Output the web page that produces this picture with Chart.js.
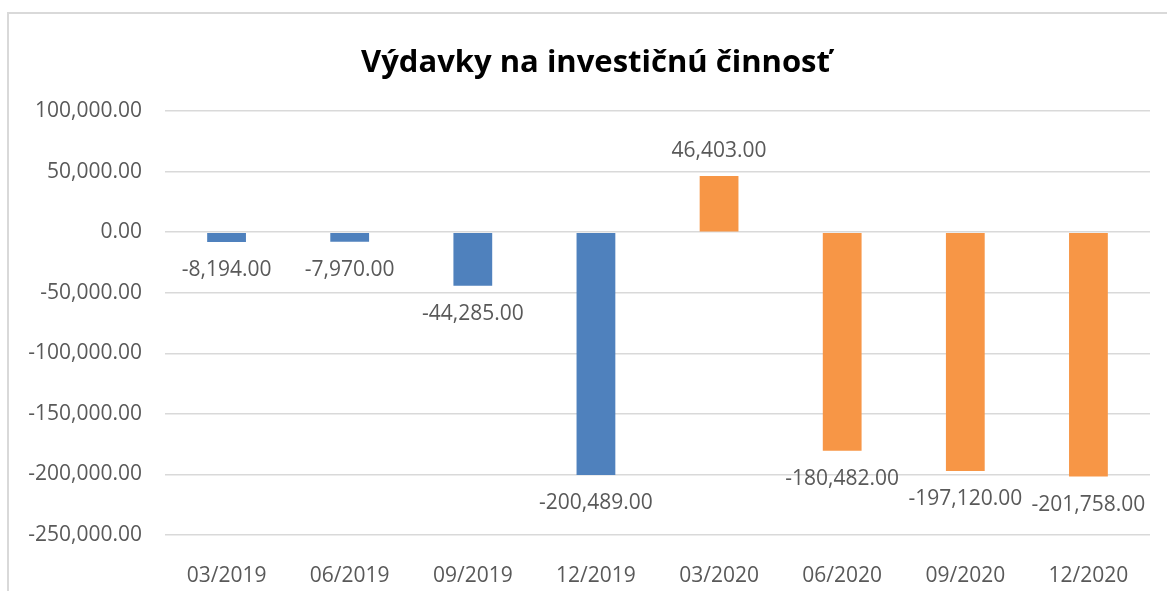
<!DOCTYPE html>
<html lang="sk">
<head>
    <meta charset="UTF-8">
    <title>Výdavky na investičnú činnosť</title>
    <script src="https://cdn.jsdelivr.net/npm/chart.js"></script>
    <style>
        html, body { margin: 0; padding: 0; background: #fff; overflow: hidden; }
        .frame { position: absolute; left: 7px; top: 12px; width: 1300px; height: 700px; border: 2px solid #d9d9d9; }
        .chart-box { position: absolute; left: 0; top: 0; width: 1167px; height: 591px; }
    </style>
</head>
<body>
    <div class="frame"></div>
    <div class="chart-box"><canvas id="investChart"></canvas></div>
    <script>
        // data
        const periods = ['03/2019', '06/2019', '09/2019', '12/2019', '03/2020', '06/2020', '09/2020', '12/2020'];
        const spending = [-8194, -7970, -44285, -200489, 46403, -180482, -197120, -201758];
        const yTicks = [100000, 50000, 0, -50000, -100000, -150000, -200000, -250000];
        const chartTitle = 'Výdavky na investičnú činnosť';

        const blue = '#4f81bd', orange = '#f79646';
        const fontFamily = '"Open Sans", "Noto Sans", sans-serif';
        const fmt = v => v.toLocaleString('en-US', { minimumFractionDigits: 2, maximumFractionDigits: 2 });

        // Excel-style value labels (outside end) + title centred on the chart frame
        const valueLabels = {
            id: 'valueLabels',
            afterDatasetsDraw(chart) {
                const ctx = chart.ctx;
                const meta = chart.getDatasetMeta(0);
                ctx.save();
                ctx.font = '21px ' + fontFamily;
                ctx.fillStyle = '#595959';
                ctx.textAlign = 'center';
                ctx.textBaseline = 'middle';
                meta.data.forEach((bar, i) => {
                    const v = spending[i];
                    const y = v < 0 ? bar.y + 28 : bar.y - 25;
                    ctx.fillText(fmt(v), bar.x, y);
                });
                ctx.font = 'bold 31px ' + fontFamily;
                ctx.fillStyle = '#000';
                ctx.fillText(chartTitle, chart.width / 2 + 12, 63);
                ctx.restore();
            }
        };

        new Chart(document.getElementById('investChart'), {
            type: 'bar',
            data: {
                labels: periods,
                datasets: [{
                    data: spending,
                    backgroundColor: periods.map(p => p.endsWith('2019') ? blue : orange),
                    barPercentage: 0.315,
                    categoryPercentage: 1
                }]
            },
            options: {
                responsive: true,
                maintainAspectRatio: false,
                animation: false,
                layout: { padding: { left: 0, right: 17, top: 111, bottom: 0 } },
                plugins: {
                    legend: { display: false },
                    tooltip: { enabled: false },
                    title: { display: false }
                },
                scales: {
                    x: {
                        grid: { display: false },
                        border: { display: false },
                        ticks: { color: '#595959', font: { family: fontFamily, size: 21 }, padding: 20 },
                        afterFit(scale) { scale.height = 56; }
                    },
                    y: {
                        min: yTicks[yTicks.length - 1],
                        max: yTicks[0],
                        border: { display: false },
                        grid: { color: '#d9d9d9', lineWidth: 1.5, drawTicks: false },
                        ticks: {
                            stepSize: 50000,
                            color: '#595959',
                            font: { family: fontFamily, size: 21 },
                            padding: 23,
                            callback: v => fmt(v)
                        },
                        afterFit(scale) { scale.width = 165; }
                    }
                }
            },
            plugins: [valueLabels]
        });
    </script>
</body>
</html>
